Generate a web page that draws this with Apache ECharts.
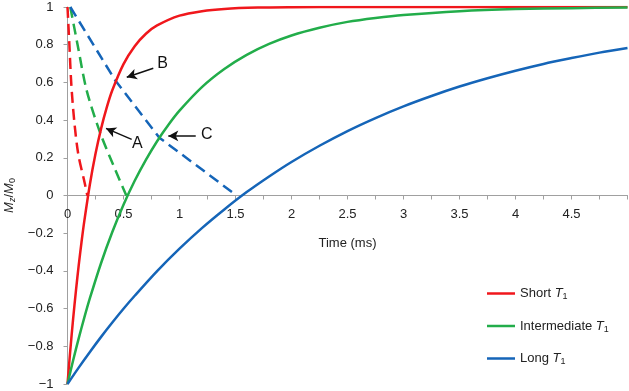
<!DOCTYPE html>
<html><head><meta charset="utf-8">
<script src="https://cdn.jsdelivr.net/npm/echarts@6/dist/echarts.min.js"></script>
<style>html,body{margin:0;padding:0;background:#fff}#c{width:629px;height:391px}</style>
</head><body><div id="c"></div>
<script>
// Solid curves (Mz/M0 vs time)
const shortTime = [0,0.025,0.05,0.075,0.1,0.125,0.15,0.2,0.25,0.3,0.35,0.4,0.5,0.6,0.7,0.8,1.0,1.2,1.4,1.7,2.0,2.5,3,4,5];
const shortValue = [-1,-0.82,-0.656,-0.507,-0.371,-0.248,-0.136,0.06,0.221,0.355,0.466,0.558,0.697,0.792,0.858,0.902,0.954,0.978,0.99,0.997,0.999,1,1,1,1];
const interTime = [0,0.05,0.1,0.15,0.2,0.3,0.4,0.5,0.6,0.7,0.8,0.9,1.0,1.2,1.4,1.6,1.8,2.0,2.25,2.5,2.75,3.0,3.5,4.0,4.5,5.0];
const interValue = [-1,-0.875,-0.758,-0.648,-0.545,-0.358,-0.194,-0.049,0.078,0.189,0.288,0.374,0.45,0.575,0.671,0.746,0.804,0.849,0.89,0.921,0.942,0.958,0.978,0.989,0.994,0.997];
const longTime = [0,0.1,0.2,0.3,0.4,0.5,0.6,0.8,1.0,1.2,1.4,1.6,1.8,2.0,2.25,2.5,2.75,3.0,3.25,3.5,3.75,4.0,4.25,4.5,4.75,5.0];
const longValue = [-1,-0.913,-0.83,-0.75,-0.674,-0.601,-0.532,-0.401,-0.282,-0.173,-0.074,0.018,0.101,0.178,0.264,0.342,0.411,0.473,0.528,0.578,0.622,0.662,0.698,0.729,0.758,0.783];
// Dashed curves
const shortDashTime = [0,0.016,0.034,0.061,0.096,0.154,0.177];
const shortDashValue = [1,0.81,0.59,0.39,0.22,0.065,0];
const interDashTime = [0.025,0.09,0.17,0.29,0.41,0.525];
const interDashValue = [1,0.8,0.56,0.335,0.16,0];
const longDashTime = [0.025,0.424,0.82,1.51];
const longDashValue = [1,0.613,0.307,0];
// Annotations
const noteLabels = ['A','B','C'];
const noteLabelAt = [[0.623,0.277],[0.85,0.698],[1.243,0.321]];
const arrowFrom = [[0.573,0.298],[0.766,0.675],[1.145,0.316]];
const arrowTo = [[0.344,0.356],[0.529,0.627],[0.9,0.316]];
const legendNames = ['Short','Intermediate','Long'];

const RED='#f0171c', GREEN='#22ad4a', BLUE='#1565b8';
const zip=(a,b)=>a.map((x,i)=>[x,b[i]]);
const FONT='Liberation Sans';
const subRich={
  i:{fontStyle:'italic',fontSize:13,lineHeight:16,fontFamily:FONT,color:'#222'},
  s:{fontSize:9,lineHeight:8,verticalAlign:'bottom',fontFamily:FONT,color:'#222'},
  si:{fontSize:9,lineHeight:8,verticalAlign:'bottom',fontStyle:'italic',fontFamily:FONT,color:'#222'},
  n:{fontSize:13,lineHeight:16,fontFamily:FONT,color:'#222'}
};
function solid(name,t,v,c){return {name,type:'line',data:zip(t,v),showSymbol:false,smooth:0.3,lineStyle:{color:c,width:2.5},itemStyle:{color:c},z:3,silent:true};}
function dashed(name,t,v,c,sm){return {name,type:'line',data:zip(t,v),showSymbol:false,smooth:sm,lineStyle:{color:c,width:2.5,type:[11,6]},itemStyle:{color:c},z:2,silent:true};}

const GRID_TOP=7, GRID_BOTTOM=7, H=391;
const plotH=H-GRID_TOP-GRID_BOTTOM;
const chart=echarts.init(document.getElementById('c'),null,{renderer:'canvas'});
chart.setOption({
  animation:false,
  textStyle:{fontFamily:FONT},
  grid:{left:67.5,right:1.5,top:GRID_TOP,bottom:GRID_BOTTOM,containLabel:false,outerBoundsMode:'none'},
  xAxis:{type:'value',min:0,max:5,interval:0.25,position:'bottom',offset:-plotH/2,
    name:'Time (ms)',nameLocation:'middle',nameGap:41,
    nameTextStyle:{fontSize:13,color:'#222',fontFamily:FONT},
    axisLine:{onZero:false,lineStyle:{color:'#a0a0a0',width:1}},
    axisTick:{show:true,length:4,lineStyle:{color:'#a0a0a0'}},
    axisLabel:{margin:12,fontSize:13,color:'#222',fontFamily:FONT,
      formatter:v=>{const r=Math.round(v*100)/100; if(r>=5) return ''; return (Math.abs(r*2-Math.round(r*2))<1e-6)?String(r):'';}},
    splitLine:{show:false}},
  yAxis:{type:'value',min:-1,max:1,interval:0.2,
    name:'{i|M}{si|z}{n|/}{i|M}{s|0}',nameLocation:'middle',nameGap:50,nameRotate:90,
    nameTextStyle:{rich:subRich},
    axisLine:{show:true,onZero:false,lineStyle:{color:'#a0a0a0',width:1}},
    axisTick:{show:true,length:4,lineStyle:{color:'#a0a0a0'}},
    axisLabel:{margin:14,fontSize:13,color:'#222',fontFamily:FONT,
      formatter:v=>{const r=Math.round(v*10)/10; return String(r).replace('-','\u2212');}},
    splitLine:{show:false}},
  legend:{data:legendNames.map(n=>({name:n,icon:'rect'})),orient:'vertical',left:482,top:282,
    itemWidth:28,itemHeight:2.5,itemGap:18,
    formatter:n=>n+' {i|T}{s|1}',
    textStyle:{fontSize:13,color:'#222',fontFamily:FONT,rich:subRich}},
  series:[
    dashed('shortDash',shortDashTime,shortDashValue,RED,0.3),
    dashed('interDash',interDashTime,interDashValue,GREEN,0.3),
    dashed('longDash',longDashTime,longDashValue,BLUE,false),
    solid('Short',shortTime,shortValue,RED),
    solid('Intermediate',interTime,interValue,GREEN),
    solid('Long',longTime,longValue,BLUE),
    {name:'notes',type:'line',data:[],silent:true,
      markLine:{silent:true,symbol:['none','arrow'],symbolSize:[8,10],animation:false,
        lineStyle:{color:'#111',width:1.5,type:'solid'},label:{show:false},emphasis:{disabled:true},
        data:arrowFrom.map((f,i)=>[{coord:f},{coord:arrowTo[i]}])},
      markPoint:{silent:true,symbol:'circle',symbolSize:0,animation:false,
        label:{show:true,position:'inside',fontSize:16,color:'#111',fontFamily:FONT,formatter:p=>p.name},
        data:noteLabels.map((n,i)=>({name:n,coord:noteLabelAt[i]}))}}
  ]
});
</script></body></html>
